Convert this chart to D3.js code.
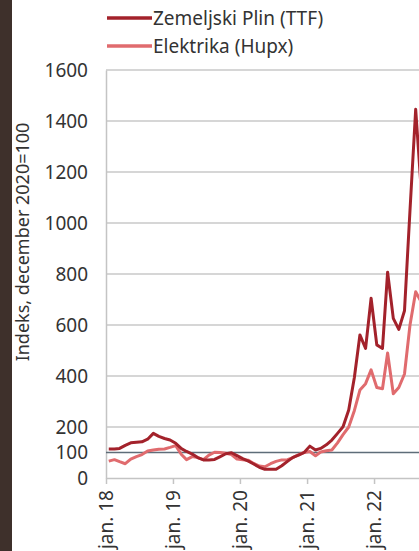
<!DOCTYPE html>
<html>
<head>
<meta charset="utf-8">
<script src="https://cdn.jsdelivr.net/npm/d3@7"></script>
<style>
  body { margin: 0; background: #fff; }
  text { font-family: "Noto Sans", sans-serif; fill: #333; }
</style>
</head>
<body>
<div id="chart"></div>
<script>
// months from jan. 18 onward, one value per month
const seriesNames = ["Zemeljski Plin (TTF)", "Elektrika (Hupx)"];
const ttf = [114, 114, 116, 128, 138, 140, 142, 152, 175, 163, 155, 149,
             136, 115, 104, 94, 80, 71, 71, 73, 84, 95, 99, 88,
             76, 66, 55, 42, 34, 34, 34, 48, 65, 81, 90, 100,
             125, 110, 116, 130, 149, 175, 201, 267, 395, 561, 508, 705,
             522, 508, 807, 626, 583, 656, 1050, 1446, 1120];
const hupx = [66, 72, 64, 56, 74, 84, 92, 106, 110, 113, 114, 120,
              127, 92, 72, 84, 80, 72, 90, 101, 100, 97, 92, 74,
              72, 70, 57, 47, 44, 56, 65, 71, 72, 80, 92, 100,
              104, 87, 102, 107, 110, 138, 170, 200, 265, 345, 370, 424,
              355, 350, 490, 330, 355, 408, 600, 730, 690];
const yTicks = [0, 100, 200, 400, 600, 800, 1000, 1200, 1400, 1600];
const gridValues = [200, 400, 600, 800, 1000, 1200, 1400, 1600];
const refValue = 100;
const yearTicks = [2018, 2019, 2020, 2021, 2022, 2023];

const width = 419, height = 551;
const colors = ["#a3222b", "#e06b6e"];

const svg = d3.select("#chart").append("svg")
    .attr("width", width)
    .attr("height", height);

// dark side band
svg.append("rect")
    .attr("x", 0).attr("y", 0)
    .attr("width", 12).attr("height", height)
    .attr("fill", "#3e302b");

const x = d3.scaleTime()
    .domain([new Date(2018, 0, 1), new Date(2023, 0, 1)])
    .range([106, 441]);
const y = d3.scaleLinear()
    .domain([0, 1600])
    .range([478, 70]);

// gridlines
svg.append("g").selectAll("line")
    .data(gridValues)
    .enter().append("line")
    .attr("x1", x.range()[0]).attr("x2", x.range()[1])
    .attr("y1", d => y(d)).attr("y2", d => y(d))
    .attr("stroke", "#c9c9c9")
    .attr("stroke-width", 1.5);

// y axis
const yAxis = svg.append("g")
    .attr("transform", "translate(106,0)")
    .call(d3.axisLeft(y).tickValues(yTicks).tickFormat(d3.format("d"))
      .tickSize(0).tickPadding(18));
yAxis.select(".domain").attr("stroke", "#c4c4c4").attr("stroke-width", 1.5);
yAxis.selectAll("text")
    .style("font-size", "19px")
    .style("font-family", "Noto Sans")
    .attr("fill", "#333");

// x axis
const xAxis = svg.append("g")
    .attr("transform", "translate(0,478)")
    .call(d3.axisBottom(x)
      .tickValues(yearTicks.map(yr => new Date(yr, 0, 1)))
      .tickSize(6)
      .tickSizeOuter(0)
      .tickFormat(d => "jan. " + String(d.getFullYear()).slice(2)));
xAxis.select(".domain").attr("stroke", "#c4c4c4").attr("stroke-width", 1.5);
xAxis.selectAll(".tick line").attr("stroke", "#c4c4c4").attr("stroke-width", 1.5);
xAxis.selectAll("text")
    .style("font-size", "19px")
    .style("font-family", "Noto Sans")
    .attr("fill", "#333")
    .attr("text-anchor", "end")
    .attr("transform", "rotate(-90)")
    .attr("x", -12)
    .attr("y", 0)
    .attr("dy", "0.35em");

// reference line at 100
svg.append("line")
    .attr("x1", x.range()[0]).attr("x2", x.range()[1])
    .attr("y1", y(refValue)).attr("y2", y(refValue))
    .attr("stroke", "#5e6d79")
    .attr("stroke-width", 1.5);

// series lines
const monthDate = i => new Date(2018, i, 16);
const line = d3.line()
    .x((d, i) => x(monthDate(i)))
    .y(d => y(d));

[hupx, ttf].forEach((s, k) => {
  svg.append("path")
      .datum(s)
      .attr("d", line)
      .attr("fill", "none")
      .attr("stroke", k === 0 ? colors[1] : colors[0])
      .attr("stroke-width", 3)
      .attr("stroke-linejoin", "round");
});

// y axis title
svg.append("text")
    .attr("transform", "translate(29,242) rotate(-90)")
    .attr("text-anchor", "middle")
    .style("font-size", "18px")
    .text("Indeks, december 2020=100");

// legend
const legend = svg.append("g");
seriesNames.forEach((name, i) => {
  const ly = 18 + i * 28;
  legend.append("line")
      .attr("x1", 107).attr("x2", 152)
      .attr("y1", ly).attr("y2", ly)
      .attr("stroke", colors[i])
      .attr("stroke-width", 3.5);
  legend.append("text")
      .attr("x", 153).attr("y", ly)
      .attr("dy", "0.35em")
      .style("font-size", "19px")
      .text(name);
});
</script>
</body>
</html>
